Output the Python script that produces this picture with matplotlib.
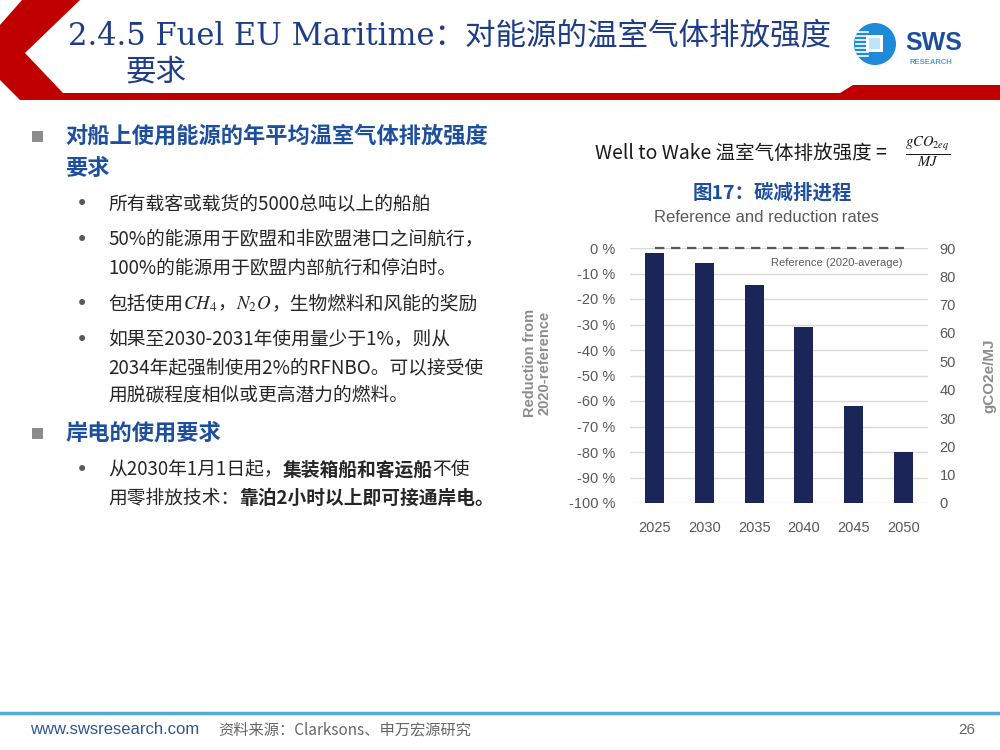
import matplotlib
matplotlib.use("Agg")
import matplotlib.pyplot as plt
from matplotlib import font_manager
from matplotlib.patches import Polygon, Rectangle, Circle

# ---- chart data ----
years = ["2025", "2030", "2035", "2040", "2045", "2050"]
reduction = [-2, -6, -14.5, -31, -62, -80]          # % vs 2020 reference
left_ticks = [0, -10, -20, -30, -40, -50, -60, -70, -80, -90, -100]
right_ticks = [0, 10, 20, 30, 40, 50, 60, 70, 80, 90]
reference_level = 0

# ---- slide text ----
title_l1 = "2.4.5 Fuel EU Maritime：对能源的温室气体排放强度"
title_l2 = "要求"
head1 = ["对船上使用能源的年平均温室气体排放强度", "要求"]
head2 = "岸电的使用要求"
footer_url = "www.swsresearch.com"
footer_src = "资料来源：Clarksons、申万宏源研究"
page_no = "26"

CJK = "Noto Sans CJK SC"
installed = {f.name for f in font_manager.fontManager.ttflist}
NARROW = "Liberation Sans Narrow" if "Liberation Sans Narrow" in installed else "Liberation Sans"
plt.rcParams["font.family"] = [CJK, "DejaVu Sans"]
plt.rcParams["mathtext.fontset"] = "stix"

BODY = "#262626"
HEAD = "#1E4F9E"
GRAY = "#595959"

fig = plt.figure(figsize=(10, 7.5), dpi=100)
ov = fig.add_axes([0, 0, 1, 1])
ov.set_xlim(0, 1000)
ov.set_ylim(750, 0)
ov.axis("off")

# red header decoration
red = "#C00000"
ov.add_patch(Polygon([(22, 0), (80, 0), (25, 53), (63, 93), (840, 93), (853, 85),
                      (1000, 85), (1000, 100), (20, 100), (0, 80), (0, 25)],
                     closed=True, color=red, lw=0))

ov.text(68, 36, title_l1, fontsize=22, color="#1F3C88", va="center",
        family=["DejaVu Serif", CJK])
ov.text(125, 72, title_l2, fontsize=22, color="#1F3C88", va="center",
        family=["DejaVu Serif", CJK])

# logo
ov.add_patch(Circle((875, 44), 21, color="#1F8AD8", lw=0))
for yy in [32, 36, 40, 44, 48, 52, 56]:
    ov.plot([856, 868], [yy, yy], color="white", lw=1.2)
ov.add_patch(Rectangle((866, 35), 17, 17, color="white", lw=0))
ov.add_patch(Rectangle((869, 38), 11, 11, color="#BFE3F8", lw=0))
ov.text(905, 43, "SWS", fontsize=18, fontweight="bold", color="#1D4E9E", va="center",
        family="Liberation Sans")
ov.text(910, 62, "RESEARCH", fontsize=5.5, fontweight="bold", color="#4BA0DC", va="center",
        family="Liberation Sans")


def chain(parts, x, y, size=13.5):
    prev = None
    for s, bold in parts:
        kw = dict(fontsize=size, color=BODY, va="center", ha="left",
                  fontweight="bold" if bold else "normal")
        if prev is None:
            prev = ov.text(x, y, s, **kw)
        else:
            prev = ov.annotate(s, xy=(1, 0.5), xycoords=prev, **kw)
    return prev


# left column
for yy in [136, 433]:
    ov.add_patch(Rectangle((32, yy - 5.5), 11, 11, color="#8C8C8C", lw=0))
ov.text(65, 136, head1[0], fontsize=16, fontweight="bold", color=HEAD, va="center")
ov.text(65, 168, head1[1], fontsize=16, fontweight="bold", color=HEAD, va="center")
ov.text(65, 433, head2, fontsize=16, fontweight="bold", color=HEAD, va="center")

for yy in [204, 240, 304, 340, 470]:
    ov.text(82, yy, "•", fontsize=15, color="#595959", va="center", ha="center",
            family="DejaVu Sans")

chain([("所有载客或载货的5000总吨以上的船舶", False)], 108, 204)
chain([("50%的能源用于欧盟和非欧盟港口之间航行，", False)], 108, 240)
chain([("100%的能源用于欧盟内部航行和停泊时。", False)], 108, 268)
chain([("包括使用", False), ("$CH_4$", False), ("，", False), ("$N_2O$", False),
       ("，生物燃料和风能的奖励", False)], 108, 304)
chain([("如果至2030-2031年使用量少于1%，则从", False)], 108, 340)
chain([("2034年起强制使用2%的RFNBO。可以接受使", False)], 108, 368)
chain([("用脱碳程度相似或更高潜力的燃料。", False)], 108, 396)
chain([("从2030年1月1日起，", False), ("集装箱船和客运船", True), ("不使", False)], 108, 470)
chain([("用零排放技术：", False), ("靠泊2小时以上即可接通岸电。", True)], 108, 498)

# chart header text
ov.text(595, 153, "Well to Wake 温室气体排放强度 =", fontsize=14, color="#1A1A1A", va="center")
ov.text(928, 153, r"$\frac{gCO_{2eq}}{MJ}$", fontsize=15, color="#1A1A1A", va="center",
        ha="center")
ov.text(772, 193, "图17：碳减排进程", fontsize=14, fontweight="bold", color=HEAD,
        va="center", ha="center")
ov.text(766, 217, "Reference and reduction rates", fontsize=12, color=GRAY,
        va="center", ha="center", family=NARROW)

# footer
ov.plot([0, 1000], [713, 713], color="#55A9D6", lw=2.5)
ov.text(30, 730, footer_url, fontsize=12, color="#2E5597", va="center", family="Liberation Sans")
ov.text(218, 730, footer_src, fontsize=11, color="#666666", va="center")
ov.text(958, 730, page_no, fontsize=11, color="#666666", va="center", family="Liberation Sans")

# ---- bar chart ----
ax = fig.add_axes([0.6296, 1 - 503 / 750, 0.2988, 255 / 750])
x = list(range(len(years)))
heights = [r - left_ticks[-1] for r in reduction]
ax.bar(x, heights, bottom=left_ticks[-1], width=0.38, color="#1B2557", zorder=3)
ax.plot([x[0], x[-1]], [reference_level, reference_level], color=GRAY, lw=1.6,
        dashes=(4.2, 3.0), zorder=4, clip_on=False)
ax.text(3.66, -5.9, "Reference (2020-average)", fontsize=8, color=GRAY,
        ha="center", va="center", family=NARROW)
ax.set_xlim(-0.5, len(years) - 0.5)
ax.set_ylim(left_ticks[-1], left_ticks[0])
ax.set_yticks(left_ticks)
ax.set_yticklabels([f"{t} %" for t in left_ticks])
ax.set_xticks(x)
ax.set_xticklabels(years)
ax.grid(axis="y", color="#D9D9D9", lw=1, zorder=0)
for sp in ax.spines.values():
    sp.set_visible(False)
ax.tick_params(axis="y", length=0, pad=10, labelsize=10.5, labelcolor=GRAY)
ax.tick_params(axis="x", length=0, pad=13, labelsize=10.5, labelcolor=GRAY)
for lab in ax.get_xticklabels() + ax.get_yticklabels():
    lab.set_family(NARROW)
ax.set_ylabel("Reduction from\n2020-reference", fontsize=10.5, fontweight="bold",
              color="#8C8C8C", family=NARROW, linespacing=1.05)
ax.yaxis.set_label_coords(-0.262, 0.55)

ax2 = ax.twinx()
ax2.set_ylim(right_ticks[0], right_ticks[-1])
ax2.set_yticks(right_ticks)
for sp in ax2.spines.values():
    sp.set_visible(False)
ax2.tick_params(axis="y", length=0, pad=8, labelsize=10.5, labelcolor=GRAY)
for lab in ax2.get_yticklabels():
    lab.set_family(NARROW)
ax2.set_ylabel("gCO2e/MJ", fontsize=11, fontweight="bold", color="#8C8C8C", family=NARROW)
ax2.yaxis.set_label_coords(1.18, 0.5)

fig.savefig("out.png", dpi=100)
